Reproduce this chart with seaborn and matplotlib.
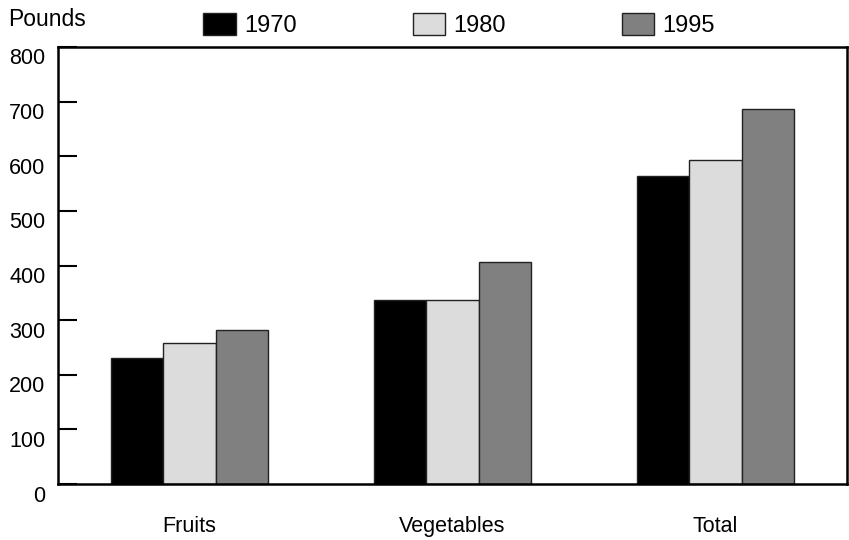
import matplotlib
matplotlib.use("Agg")
import matplotlib.pyplot as plt
import matplotlib.transforms as mtransforms
import seaborn as sns
import pandas as pd

categories = ["Fruits", "Vegetables", "Total"]
years = ["1970", "1980", "1995"]
values_1970 = [230, 336, 564]
values_1980 = [259, 337, 594]
values_1995 = [282, 406, 686]
yticks = [0, 100, 200, 300, 400, 500, 600, 700, 800]

rows = []
for yr, vals in zip(years, [values_1970, values_1980, values_1995]):
    for c, v in zip(categories, vals):
        rows.append({"category": c, "year": yr, "pounds": v})
df = pd.DataFrame(rows)

sns.set_theme(style="white")
plt.rcParams['font.family'] = ['Liberation Sans', 'DejaVu Sans']
plt.rcParams['text.color'] = 'black'
plt.rcParams['axes.labelcolor'] = 'black'
plt.rcParams['xtick.color'] = 'black'
plt.rcParams['ytick.color'] = 'black'

fig = plt.figure(figsize=(8.49, 5.40), dpi=100)
ax = fig.add_axes([58/849, 1-484/540, (847-58)/849, (484-47)/540])

palette = {"1970": "#000000", "1980": "#dcdcdc", "1995": "#808080"}
sns.barplot(data=df, x="category", y="pounds", hue="year", order=categories,
            hue_order=years, palette=palette, width=0.6, gap=0, ax=ax,
            edgecolor="#222222", linewidth=1.0, saturation=1, errorbar=None)

ax.set_ylim(0, 800)
ax.set_xlim(-0.5, 2.5)
ax.set_yticks(yticks)
ax.set_yticklabels([str(t) for t in yticks])
ax.set_xlabel("")
ax.set_ylabel("")
for s in ax.spines.values():
    s.set_color("black")
    s.set_linewidth(1.8)
ax.tick_params(axis="y", direction="in", length=14, width=1.5, color="black",
               pad=9, labelsize=15.5, left=True, labelcolor="black")
ax.tick_params(axis="x", length=0, pad=23, labelsize=15.5, labelcolor="black")

offset = mtransforms.ScaledTranslation(0, -9.5/100, fig.dpi_scale_trans)
for lab in ax.get_yticklabels():
    lab.set_transform(lab.get_transform() + offset)

handles, labels = ax.get_legend_handles_labels()
ax.get_legend().remove()
fig.legend(handles, labels, loc="center", bbox_to_anchor=(459/849, 1-25/540),
           ncol=3, frameon=False, fontsize=17, handlelength=1.36,
           handleheight=1.06, handletextpad=0.35, columnspacing=4.92,
           borderpad=0, borderaxespad=0)

fig.text(8/849, 1-19/540, "Pounds", fontsize=16.5, ha="left", va="center")

fig.savefig("out.png", dpi=100)
